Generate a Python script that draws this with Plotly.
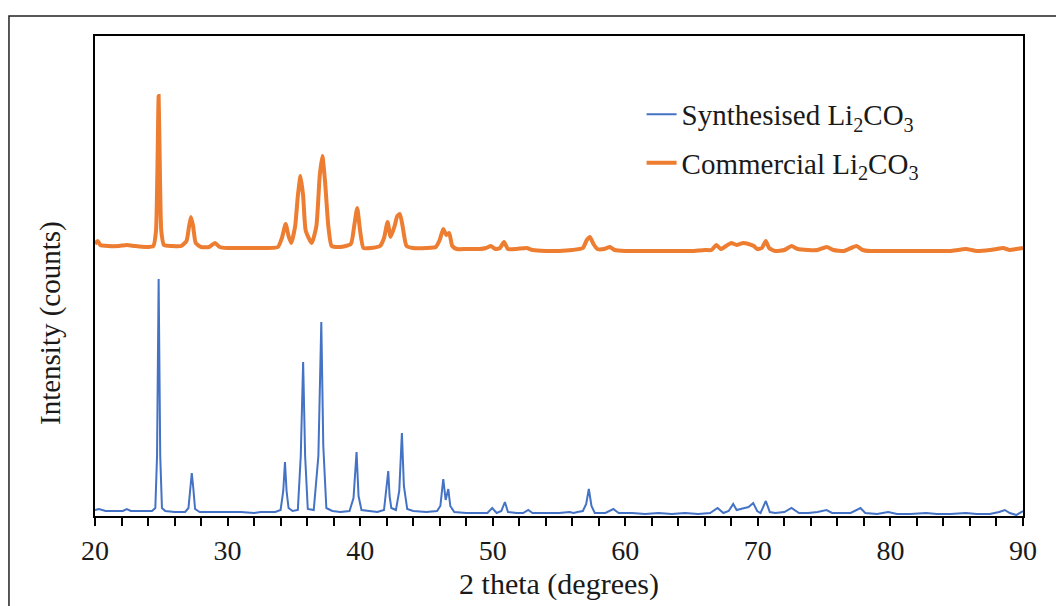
import plotly.graph_objects as go

# 2-theta positions (degrees) and intensities (arbitrary counts)
synth_2theta = [20.0, 20.3, 20.8, 21.5, 22.1, 22.4, 22.7, 23.5, 24.3, 24.55, 24.68, 24.8, 24.92, 25.05,
                25.3, 26.0, 26.8, 27.05, 27.2, 27.3, 27.4, 27.55, 27.9, 28.5, 29.3, 30.0, 31.0, 32.0,
                32.5, 33.0, 33.6, 34.0, 34.2, 34.33, 34.45, 34.6, 34.9, 35.3, 35.52, 35.7, 35.85, 36.05,
                36.5, 36.85, 37.07, 37.22, 37.45, 37.9, 38.5, 39.2, 39.5, 39.73, 39.88, 40.1, 40.7,
                41.3, 41.8, 41.98, 42.12, 42.22, 42.35, 42.7, 42.95, 43.15, 43.3, 43.55, 44.0, 45.0,
                45.8, 46.05, 46.27, 46.45, 46.65, 46.8, 47.1, 48.0, 49.0, 49.6, 49.96, 50.3, 50.65,
                50.92, 51.15, 51.8, 52.3, 52.68, 53.0, 54.0, 55.0, 55.8, 56.1, 56.4, 56.8, 57.05,
                57.25, 57.45, 57.7, 58.5, 59.1, 59.5, 60.5, 61.5, 62.5, 63.5, 64.5, 65.5, 66.4,
                66.96, 67.4, 67.8, 68.14, 68.4, 68.8, 69.3, 69.65, 69.95, 70.2, 70.6, 70.9, 71.3,
                72.0, 72.54, 73.1, 73.8, 74.5, 75.18, 75.6, 76.3, 77.0, 77.74, 78.1, 79.0, 79.83,
                80.5, 81.5, 82.7, 83.5, 84.5, 85.7, 86.5, 87.5, 88.2, 88.63, 89.0, 89.5, 90.0]
synth_counts = [6, 7, 5, 5, 5, 7, 5, 5, 5, 8, 60, 237, 60, 8,
                5, 4, 4, 8, 30, 43, 30, 7, 4, 4, 4, 4, 4, 3,
                4, 4, 4, 6, 25, 54, 25, 8, 5, 6, 60, 154, 60, 7,
                6, 60, 194, 70, 8, 5, 4, 5, 18, 64, 20, 6, 5,
                4, 6, 25, 45, 20, 8, 6, 25, 83, 30, 7, 5, 4,
                5, 10, 37, 16, 27, 10, 4, 3, 3, 3, 8, 3, 5,
                14, 4, 3, 3, 6, 3, 3, 3, 4, 3, 4, 5, 12,
                27, 10, 3, 3, 7, 3, 3, 2, 3, 2, 3, 2, 3,
                8, 3, 5, 12, 6, 7, 9, 13, 5, 3, 15, 4, 3,
                4, 8, 3, 3, 4, 6, 3, 3, 3, 8, 3, 2, 4,
                2, 2, 3, 2, 2, 3, 2, 2, 4, 6, 3, 1, 5]

comm_2theta = [20.0, 20.2, 20.4, 21.0, 21.8, 22.4, 23.0, 23.8, 24.4, 24.6, 24.7, 24.8, 24.9, 25.0,
               25.2, 25.8, 26.5, 26.9, 27.1, 27.24, 27.4, 27.6, 28.0, 28.6, 29.05, 29.4, 30.0, 31.0,
               32.0, 33.0, 33.8, 34.1, 34.38, 34.6, 34.8, 35.1, 35.3, 35.5, 35.7, 35.9, 36.35, 36.7,
               36.95, 37.15, 37.35, 37.6, 37.85, 38.5, 39.3, 39.55, 39.78, 40.0, 40.25, 40.8, 41.5,
               41.8, 42.07, 42.3, 42.6, 42.8, 43.0, 43.2, 43.5, 44.0, 45.0, 45.7, 46.0, 46.27, 46.5,
               46.72, 46.95, 47.3, 48.0, 49.0, 49.5, 49.86, 50.2, 50.55, 50.85, 51.15, 51.8, 52.55,
               53.0, 54.0, 55.0, 56.0, 56.8, 57.1, 57.33, 57.6, 57.9, 58.4, 58.84, 59.2, 60.0, 61.0,
               62.0, 63.0, 64.0, 65.0, 66.0, 66.5, 66.88, 67.2, 67.6, 68.0, 68.4, 68.9, 69.3, 69.7,
               69.95, 70.3, 70.6, 70.85, 71.3, 72.0, 72.54, 73.0, 73.8, 74.5, 75.2, 75.7, 76.5,
               77.44, 77.9, 78.5, 79.5, 80.5, 81.5, 82.5, 83.5, 84.5, 85.7, 86.5, 87.5, 88.0, 88.5,
               89.0, 89.5, 90.0]
comm_counts = [272, 275, 271, 270, 270, 271, 270, 269, 270, 285, 340, 420, 340, 285,
               271, 270, 270, 275, 290, 299, 290, 273, 269, 269, 273, 269, 268, 268,
               268, 268, 269, 278, 292, 280, 273, 290, 320, 340, 320, 285, 273, 290,
               340, 360, 335, 290, 270, 269, 272, 290, 308, 285, 268, 268, 270,
               278, 294, 279, 290, 300, 302, 290, 270, 268, 268, 269, 276, 287, 281,
               283, 270, 267, 267, 267, 268, 270, 267, 268, 274, 267, 267, 268,
               266, 265, 265, 266, 268, 276, 279, 272, 267, 267, 269, 266, 265, 265,
               265, 265, 265, 265, 266, 266, 271, 267, 270, 273, 271, 273, 272, 270,
               267, 268, 275, 268, 265, 266, 270, 267, 266, 266, 269, 266, 265,
               270, 266, 265, 265, 265, 265, 265, 265, 265, 267, 265, 266, 267, 268,
               266, 267, 268]

series_names = ["Synthesised Li<sub>2</sub>CO<sub>3</sub>", "Commercial Li<sub>2</sub>CO<sub>3</sub>"]
x_title = "2 theta (degrees)"
y_title = "Intensity (counts)"

BLUE = "#4472C4"
ORANGE = "#ED7D31"
TEXT = "#1a1a1a"
FONT = "Liberation Serif, Times New Roman, serif"

fig = go.Figure()
fig.add_trace(go.Scatter(x=synth_2theta, y=synth_counts, mode="lines", name=series_names[0],
                         line=dict(color=BLUE, width=2), legendgroup="a"))
fig.add_trace(go.Scatter(x=comm_2theta, y=comm_counts, mode="lines", name=series_names[1],
                         line=dict(color=ORANGE, width=4, shape="spline", smoothing=0.5),
                         legendgroup="b"))

fig.update_layout(
    width=1056, height=606,
    margin=dict(l=95, r=33, t=36, b=90, autoexpand=False),
    paper_bgcolor="white", plot_bgcolor="white",
    font=dict(family=FONT, size=28, color=TEXT),
    showlegend=True,
    legend=dict(x=0.589, y=0.89, xanchor="left", yanchor="top",
                bgcolor="rgba(0,0,0,0)", font=dict(family=FONT, size=29, color=TEXT),
                tracegroupgap=8),
    xaxis=dict(range=[20, 90], dtick=10, tick0=20,
               ticks="outside", ticklen=8, tickwidth=1.5, tickcolor="black",
               minor=dict(dtick=2, ticks="outside", ticklen=8, tickwidth=1.5, tickcolor="black",
                          showgrid=False),
               showline=True, linecolor="black", linewidth=2, mirror=True,
               showgrid=False, zeroline=False, automargin=False,
               tickfont=dict(family=FONT, size=28, color=TEXT),
               title=dict(text=x_title, font=dict(family=FONT, size=30, color=TEXT), standoff=8)),
    yaxis=dict(range=[0, 480], showticklabels=False, ticks="",
               showline=True, linecolor="black", linewidth=2, mirror=True,
               showgrid=False, zeroline=False, automargin=False),
)

# y-axis title placed as rotated text
fig.add_annotation(text=y_title, textangle=-90, xref="paper", yref="paper",
                   x=-0.0485, y=0.402, xanchor="center", yanchor="middle", showarrow=False,
                   font=dict(family=FONT, size=29, color=TEXT))

# outer frame around the figure
fig.add_shape(type="rect", xref="paper", yref="paper", x0=-0.0927, x1=1.2, y0=-0.5, y1=1.0417,
              line=dict(color="#222222", width=1.5), fillcolor="rgba(0,0,0,0)", layer="below")

fig.write_html("out.html", config={"displayModeBar": False},
               post_script="document.body.style.margin='0';")
